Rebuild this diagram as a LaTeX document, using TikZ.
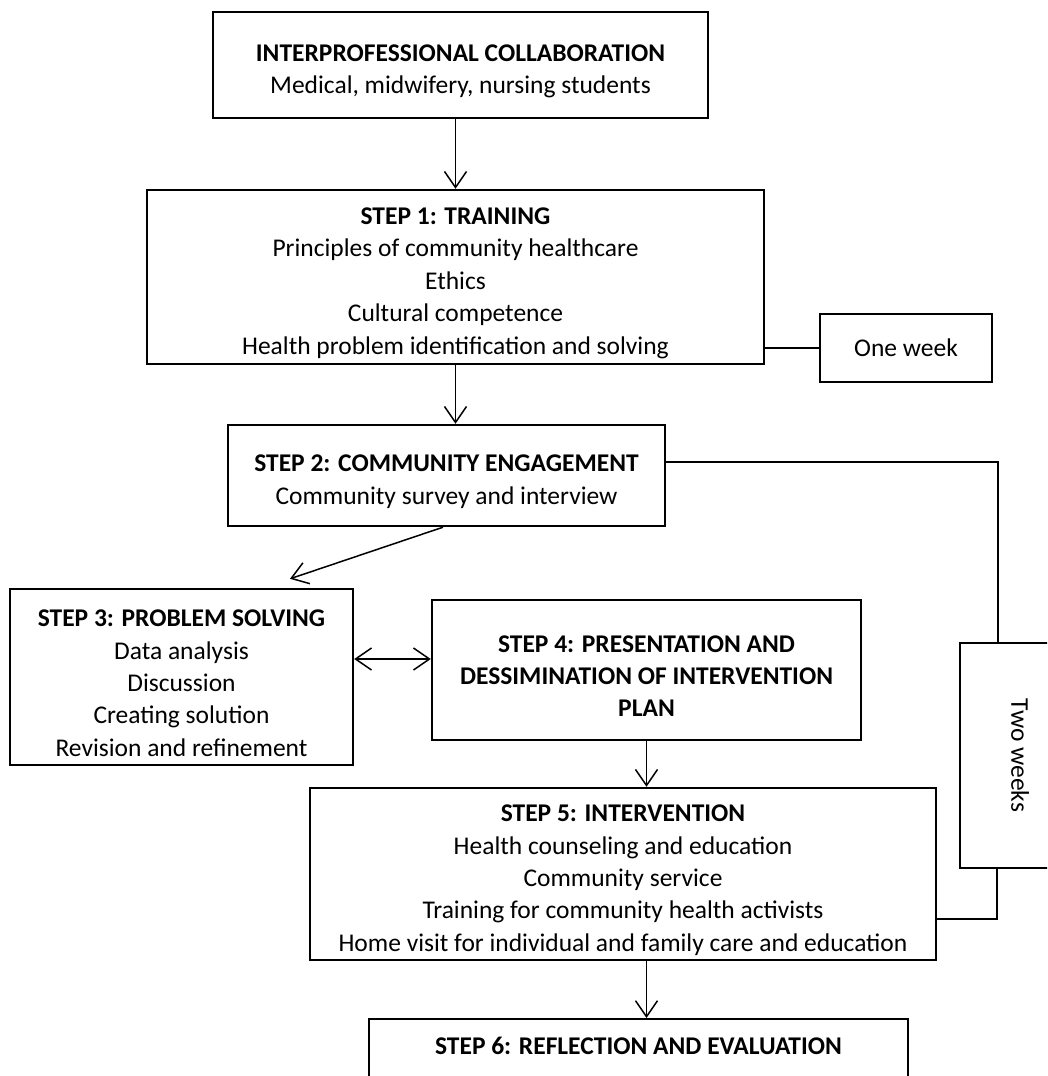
\documentclass[tikz,border=0pt]{standalone}
\usepackage{fontspec}
\setmainfont{Carlito}
\usetikzlibrary{arrows.meta}
\newcommand{\pdown}{\rule{0pt}{29pt}}
\begin{document}
\begin{tikzpicture}[x=1pt,y=-1pt,
  box/.style={draw=black,line width=2.4pt,align=center,inner sep=0pt,
    font=\fontsize{25.5}{32.4}\selectfont},
  conn/.style={line width=1.5pt,draw=black},
  arr/.style={conn,-{Straight Barb[length=16pt,width=22pt,line width=1.5pt]}},
  darr/.style={conn,{Straight Barb[length=16pt,width=22pt,line width=1.5pt]}-{Straight Barb[length=16pt,width=22pt,line width=1.5pt]}}]
\useasboundingbox (0,0) rectangle (1047,1076);
\clip (0,0) rectangle (1047,1076);
\node[box,minimum width=495pt,minimum height=106pt] (b0) at (460.5,65)
  {\pdown\textbf{INTERPROFESSIONAL COLLABORATION}\\Medical, midwifery, nursing students};
\node[box,minimum width=617pt,minimum height=174pt] (b1) at (455.5,277)
  {\pdown\textbf{STEP 1: TRAINING}\\Principles of community healthcare\\Ethics\\Cultural competence\\Health problem identification and solving};
\node[box,minimum width=172pt,minimum height=68pt] (one) at (906,348) {One week};
\node[box,minimum width=437pt,minimum height=101pt] (b2) at (446.5,475.5)
  {\pdown\textbf{STEP 2: COMMUNITY ENGAGEMENT}\\Community survey and interview};
\node[box,minimum width=343pt,minimum height=176pt] (b3) at (181.5,677)
  {\pdown\textbf{STEP 3: PROBLEM SOLVING}\\Data analysis\\Discussion\\Creating solution\\Revision and refinement};
\node[box,minimum width=429pt,minimum height=140pt] (b4) at (646.5,670)
  {\pdown\textbf{STEP 4: PRESENTATION AND}\\\textbf{DESSIMINATION OF INTERVENTION}\\\textbf{PLAN}};
\node[box,minimum width=626pt,minimum height=172pt] (b5) at (623,874)
  {\pdown\textbf{STEP 5: INTERVENTION}\\Health counseling and education\\Community service\\Training for community health activists\\Home visit for individual and family care and education};
\node[box,minimum width=539pt,minimum height=120pt,anchor=north] (b6) at (638.5,1018)
  {\raisebox{0pt}[0pt][0pt]{\raisebox{25pt}{\textbf{STEP 6: REFLECTION AND EVALUATION}}}};
\node[box,minimum width=120pt,minimum height=225pt] (two) at (1020,755.5)
  {\rotatebox{-90}{Two weeks}};
% connectors
\draw[arr] (b0.south -| b1.north) -- (b1.north);
\draw[arr] (b1.south) -- (b1.south |- b2.north);
\draw[conn] (one.west -| b1.east) -- (one.west);
\draw[conn] ([yshift=13.5pt]b2.east) -| ([xshift=-22pt]two.north);
\draw[conn] ([xshift=-23pt]two.south) |- ([yshift=-45pt]b5.east);
\draw[arr] ([xshift=-3.5pt]b2.south) -- ([xshift=108.5pt,yshift=9pt]b3.north);
\draw[darr] ([yshift=18pt]b3.east) -- ([yshift=18pt]b3.east -| b4.west);
\draw[arr] (b4.south) -- (b4.south |- b5.north);
\draw[arr] (b4.south |- b5.south) -- (b4.south |- b6.north);
\end{tikzpicture}
\end{document}
